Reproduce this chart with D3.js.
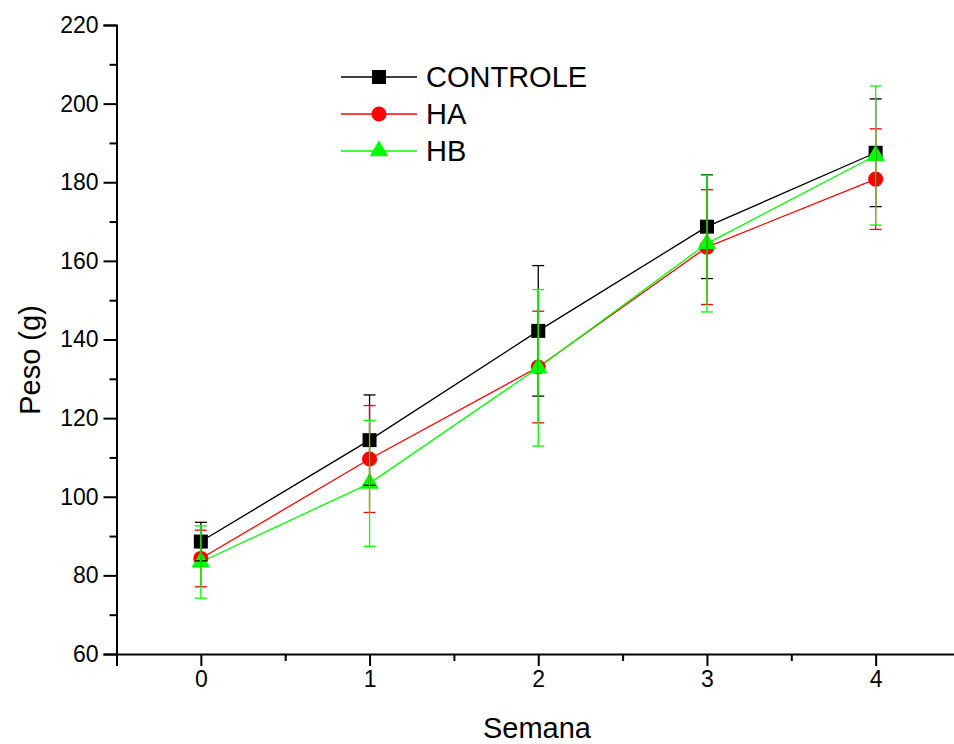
<!DOCTYPE html>
<html>
<head>
<meta charset="utf-8">
<script src="https://cdn.jsdelivr.net/npm/d3@7"></script>
<style>
  body { margin: 0; background: #fff; }
  text { font-family: "Liberation Sans", Arial, sans-serif; }
</style>
</head>
<body>
<div id="chart"></div>
<script>
// weeks and measured weights (g), mean and error
var semanas = [0, 1, 2, 3, 4];
var seriesNames = ["CONTROLE", "HA", "HB"];
var controleMean = [88.6, 114.4, 142.2, 168.7, 187.5];
var controleErr  = [4.9, 11.5, 16.6, 13.2, 13.7];
var haMean = [84.3, 109.6, 133.0, 163.5, 180.8];
var haErr  = [7.2, 13.6, 14.2, 14.6, 12.8];
var hbMean = [83.4, 103.4, 132.8, 164.4, 186.8];
var hbErr  = [9.2, 16.0, 19.9, 17.4, 17.7];
var yTicks = [60, 80, 100, 120, 140, 160, 180, 200, 220];

var colors = {"CONTROLE": "#000000", "HA": "#ff0000", "HB": "#00ff00"};
var shapes = {"CONTROLE": d3.symbolSquare, "HA": d3.symbolCircle, "HB": d3.symbolTriangle};
var sizes = {"CONTROLE": 196, "HA": 180, "HB": 150};

var series = [
    {name: "CONTROLE", mean: controleMean, err: controleErr},
    {name: "HA", mean: haMean, err: haErr},
    {name: "HB", mean: hbMean, err: hbErr}
];

var width = 954, height = 744;
var svg = d3.select("#chart").append("svg")
    .attr("width", width)
    .attr("height", height);

var x = d3.scaleLinear().domain([-0.5, 4.5]).range([116.5, 960]);
var y = d3.scaleLinear().domain([60, 220]).range([654, 25]);

// y axis
var yAxis = svg.append("g")
    .attr("transform", "translate(116.5,0)")
    .call(d3.axisLeft(y).tickValues(yTicks).tickSize(13).tickPadding(5).tickFormat(d3.format("d")));
yAxis.select(".domain").attr("stroke-width", 2);
yAxis.selectAll(".tick line").attr("stroke-width", 2);
yAxis.selectAll(".tick text").style("font-size", "23px").attr("fill", "#000");
svg.append("g")
    .attr("transform", "translate(116.5,0)")
    .call(d3.axisLeft(y).tickValues(d3.range(70, 220, 20)).tickSize(7).tickFormat(""))
    .call(function(g) { g.select(".domain").remove(); g.selectAll("line").attr("stroke-width", 2); });

// x axis
var xAxis = svg.append("g")
    .attr("transform", "translate(0,654)")
    .call(d3.axisBottom(x).tickValues(semanas).tickSize(12).tickPadding(5).tickFormat(d3.format("d")));
xAxis.select(".domain").attr("stroke-width", 2);
xAxis.selectAll(".tick line").attr("stroke-width", 2);
xAxis.selectAll(".tick text").style("font-size", "23px").attr("fill", "#000");
svg.append("g")
    .attr("transform", "translate(0,654)")
    .call(d3.axisBottom(x).tickValues([-0.5, 0.5, 1.5, 2.5, 3.5]).tickSize(7).tickFormat(""))
    .call(function(g) { g.select(".domain").remove(); g.selectAll("line").attr("stroke-width", 2); });

// axis titles
svg.append("text")
    .attr("x", 537).attr("y", 738)
    .attr("text-anchor", "middle")
    .style("font-size", "29px")
    .text("Semana");
svg.append("text")
    .attr("transform", "translate(40,360) rotate(-90)")
    .attr("text-anchor", "middle")
    .style("font-size", "29px")
    .text("Peso (g)");

var line = d3.line()
    .x(function(d, i) { return x(semanas[i]); })
    .y(function(d) { return y(d); });

// lines
series.forEach(function(s) {
    svg.append("path")
        .datum(s.mean)
        .attr("fill", "none")
        .attr("stroke", colors[s.name])
        .attr("stroke-width", 1.3)
        .attr("d", line);
});

// markers
series.forEach(function(s) {
    svg.selectAll(".m-" + s.name)
        .data(s.mean)
        .enter().append("path")
        .attr("transform", function(d, i) { return "translate(" + x(semanas[i]) + "," + y(d) + ")"; })
        .attr("d", d3.symbol().type(shapes[s.name]).size(sizes[s.name]))
        .attr("fill", colors[s.name]);
});

// error bars
series.forEach(function(s) {
    var g = svg.append("g").attr("stroke", colors[s.name]).attr("stroke-width", 1.3);
    s.mean.forEach(function(m, i) {
        var cx = x(semanas[i]);
        g.append("line").attr("x1", cx).attr("x2", cx).attr("y1", y(m - s.err[i])).attr("y2", y(m + s.err[i]));
        [m - s.err[i], m + s.err[i]].forEach(function(v) {
            g.append("line").attr("x1", cx - 6).attr("x2", cx + 6).attr("y1", y(v)).attr("y2", y(v));
        });
    });
});

// legend
var legend = svg.append("g").attr("transform", "translate(341,77)");
seriesNames.forEach(function(name, i) {
    var row = legend.append("g").attr("transform", "translate(0," + (i * 37) + ")");
    row.append("line").attr("x1", 0).attr("x2", 76).attr("y1", 0).attr("y2", 0)
        .attr("stroke", colors[name]).attr("stroke-width", 1.3);
    row.append("path")
        .attr("transform", "translate(38,0)")
        .attr("d", d3.symbol().type(shapes[name]).size(sizes[name]))
        .attr("fill", colors[name]);
    row.append("text")
        .attr("x", 85).attr("y", 10)
        .style("font-size", "29px")
        .text(name);
});
</script>
</body>
</html>
